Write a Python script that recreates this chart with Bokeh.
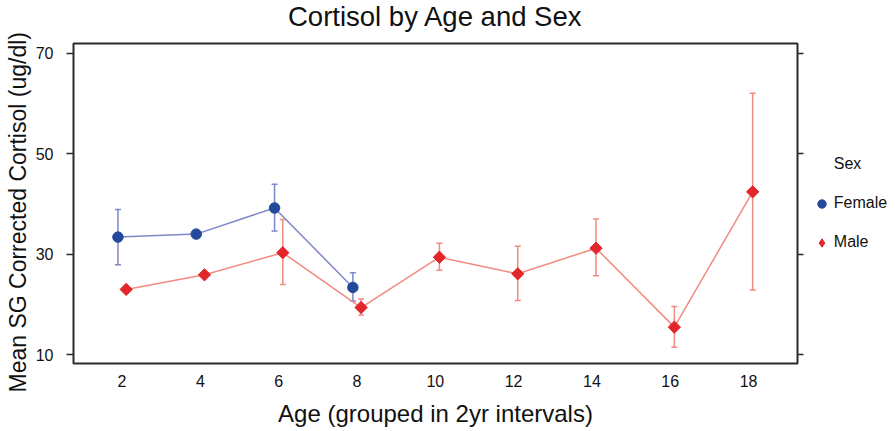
import numpy as np
from bokeh.plotting import figure
from bokeh.layouts import row
from bokeh.models import (ColumnDataSource, Whisker, TeeHead, Legend, LegendItem,
                          LinearAxis, FixedTicker, Range1d, Title)
from bokeh.embed import file_html
from bokeh.resources import INLINE

# Mean SG-corrected cortisol (ug/dl) by 2-year age group, with error-bar limits
female_age = [2, 4, 6, 8]
female_mean = [33.4, 34.0, 39.2, 23.4]
female_upper = [38.9, np.nan, 43.9, 26.3]
female_lower = [27.9, np.nan, 34.6, 20.7]

male_age = [2, 4, 6, 8, 10, 12, 14, 16, 18]
male_mean = [23.0, 25.9, 30.3, 19.4, 29.4, 26.1, 31.2, 15.5, 42.4]
male_upper = [np.nan, np.nan, 36.9, 21.1, 32.2, 31.6, 37.0, 19.6, 62.0]
male_lower = [np.nan, np.nan, 24.0, 17.9, 26.8, 20.8, 25.7, 11.5, 22.9]

x_ticks = [2, 4, 6, 8, 10, 12, 14, 16, 18]
y_ticks = [10, 30, 50, 70]

FONT = "Liberation Sans"
DODGE = 0.105  # horizontal offset (age units) separating the two sexes

F_MARK, F_LINE = "#24499c", "#7f87c9"
M_MARK, M_LINE = "#e3262b", "#f28a80"

p = figure(frame_width=724, frame_height=320,
           x_range=Range1d(0.76, 19.25), y_range=Range1d(8.27, 71.9),
           min_border_left=73, min_border_right=10,
           min_border_top=43, min_border_bottom=68,
           output_backend="svg", toolbar_location=None)

p.title = Title(text="Cortisol by Age and Sex", align="center", vertical_align="top",
                standoff=0, padding=dict(top=0, right=0, bottom=10, left=0),
                text_font=FONT, text_font_size="27.5px", text_font_style="normal",
                text_color="#111111")

p.grid.visible = False
p.outline_line_color = "#2b2b2b"
p.outline_line_width = 2
p.background_fill_color = "white"
p.border_fill_color = "white"

# bottom axis: labels only
xa = p.xaxis[0]
xa.ticker = FixedTicker(ticks=x_ticks)
xa.axis_line_color = None
xa.major_tick_out = 0
xa.major_tick_in = 0
xa.minor_tick_out = 0
xa.minor_tick_in = 0
xa.major_label_standoff = 11
xa.major_label_text_font = FONT
xa.major_label_text_font_size = "16px"
xa.major_label_text_color = "#111111"
xa.axis_label = "Age (grouped in 2yr intervals)"
xa.axis_label_text_font = FONT
xa.axis_label_text_font_size = "24px"
xa.axis_label_text_font_style = "normal"
xa.axis_label_text_color = "#111111"
xa.axis_label_standoff = 10

# left axis: outward ticks and labels
ya = p.yaxis[0]
ya.ticker = FixedTicker(ticks=y_ticks)
ya.axis_line_color = None
ya.major_tick_out = 7
ya.major_tick_in = 0
ya.major_tick_line_width = 1.5
ya.major_tick_line_color = "#2b2b2b"
ya.minor_tick_out = 0
ya.minor_tick_in = 0
ya.major_label_standoff = 13
ya.major_label_text_font = FONT
ya.major_label_text_font_size = "16px"
ya.major_label_text_color = "#111111"

# y axis title, set in the left panel so it can be shifted along the axis
p.add_layout(Title(text="Mean SG Corrected Cortisol (ug/dl)", align="left", offset=-29,
                   vertical_align="top", standoff=0,
                   padding=dict(top=0, right=0, bottom=7, left=0),
                   text_font=FONT, text_font_size="23px", text_font_style="normal",
                   text_color="#111111"), "left")

# right axis: ticks only
ra = LinearAxis(ticker=FixedTicker(ticks=y_ticks), axis_line_color=None,
                major_tick_out=6, major_tick_in=0, minor_tick_out=0, minor_tick_in=0,
                major_tick_line_width=1.5, major_tick_line_color="#2b2b2b",
                major_label_standoff=0,
                major_label_overrides={t: "" for t in y_ticks})
p.add_layout(ra, "right")

fx = [a - DODGE for a in female_age]
mx = [a + DODGE for a in male_age]


def error_source(xs, upper, lower):
    keep = [i for i in range(len(xs)) if not np.isnan(upper[i])]
    return ColumnDataSource(dict(x=[xs[i] for i in keep],
                                 upper=[upper[i] for i in keep],
                                 lower=[lower[i] for i in keep]))


for xs, up, lo, col in [(fx, female_upper, female_lower, F_LINE),
                        (mx, male_upper, male_lower, M_LINE)]:
    w = Whisker(source=error_source(xs, up, lo), base="x", upper="upper", lower="lower",
                dimension="height", line_color=col, line_width=1.5, level="underlay",
                upper_head=TeeHead(size=6, line_color=col, line_width=1.5),
                lower_head=TeeHead(size=6, line_color=col, line_width=1.5))
    p.add_layout(w)

p.line(fx, female_mean, line_color=F_LINE, line_width=1.5)
p.line(mx, male_mean, line_color=M_LINE, line_width=1.5)

p.scatter(fx, female_mean, marker="circle", size=10.5,
          fill_color=F_MARK, line_color=F_MARK)
p.scatter(mx, male_mean, marker="square", angle=np.pi / 4, size=8.7,
          fill_color=M_MARK, line_color=M_MARK)

# legend panel beside the plot: key glyphs carry no data points
lf = figure(width=88, height=431, x_range=Range1d(0, 1), y_range=Range1d(0, 1),
            x_axis_type=None, y_axis_type=None, min_border=0,
            output_backend="svg", toolbar_location=None)
lf.outline_line_color = None
lf.grid.visible = False
lf.border_fill_color = "white"
lf.background_fill_color = "white"

head = lf.scatter([np.nan], [np.nan], size=0, fill_alpha=0, line_alpha=0)
f_key = lf.scatter([np.nan], [np.nan], marker="circle", size=10.5,
                   fill_color=F_MARK, line_color=F_MARK)
m_key = lf.scatter([np.nan], [np.nan], marker="diamond", size=12,
                   fill_color=M_MARK, line_color=M_MARK)

legend = Legend(items=[LegendItem(label="Sex", renderers=[head]),
                       LegendItem(label="Female", renderers=[f_key]),
                       LegendItem(label="Male", renderers=[m_key])],
                location=(3.8, 110.5), orientation="vertical",
                glyph_width=21, glyph_height=21, label_height=21,
                label_standoff=2, spacing=18, padding=0, margin=0,
                border_line_color=None, background_fill_alpha=0,
                label_text_font=FONT, label_text_font_size="16px",
                label_text_color="#111111")
lf.add_layout(legend)

layout = row(p, lf)
open("out.html", "w").write(file_html(layout, INLINE))
